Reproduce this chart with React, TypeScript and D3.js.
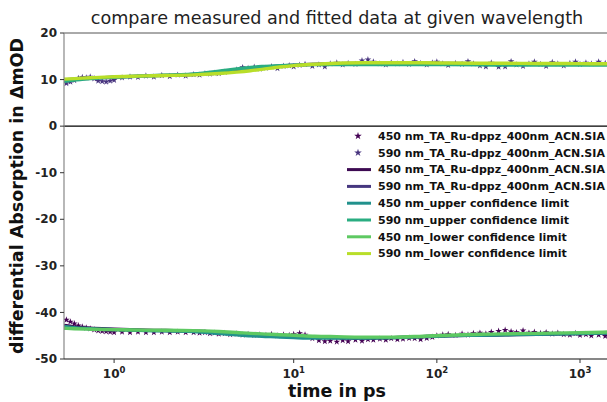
import React from "react";
import * as d3 from "d3";

// measured time points (ps)
const times = [0.4, 0.45, 0.5, 0.55, 0.6, 0.65, 0.7, 0.75, 0.8, 0.85,
  0.9, 0.95, 1.0, 1.1, 1.2, 1.3, 1.4, 1.5, 1.6, 1.7,
  1.8, 1.9, 2.0, 2.2, 2.4, 2.6, 2.8, 3.0, 3.3, 3.6,
  4.0, 4.4, 4.8, 5.3, 5.8, 6.4, 7.0, 7.7, 8.5, 9.3,
  10, 11, 12, 13.5, 15, 16.5, 18, 20, 22, 24,
  27, 30, 33, 36, 40, 44, 48, 53, 58, 64,
  70, 77, 85, 93, 100, 110, 120, 135, 150, 165,
  180, 200, 220, 240, 270, 300, 330, 360, 400, 440,
  480, 530, 580, 640, 700, 770, 850, 930, 1000, 1100,
  1200, 1350, 1500];

const data450 = [-41.6, -42.0, -42.4, -42.8, -43.1, -43.3, -43.5, -43.7, -43.9, -44.0,
  -44.1, -44.2, -44.3, -44.2, -44.3, -44.2, -44.3, -44.3, -44.2, -44.3,
  -44.2, -44.3, -44.3, -44.4, -44.3, -44.5, -44.4, -44.6, -44.5, -44.7,
  -44.6, -44.8, -44.7, -44.9, -44.8, -44.9, -44.7, -45.0, -44.8, -44.9,
  -44.7, -44.5, -44.8, -45.6, -46.0, -46.2, -46.1, -46.3, -46.0, -46.2,
  -45.9, -46.1, -45.8, -45.9, -45.7, -45.9, -45.6, -45.8, -45.7, -45.5,
  -45.6, -45.8, -45.5, -45.3, -45.0, -44.8, -44.7, -44.9, -44.6, -44.8,
  -44.5, -44.4, -44.6, -44.2, -44.0, -43.8, -44.1, -44.3, -43.9, -44.4,
  -44.2, -44.5, -44.3, -44.6, -44.4, -44.7, -44.8, -44.5, -44.9, -44.7,
  -45.0, -44.8, -45.1];

const data590 = [9.2, 9.5, 9.8, 10.3, 10.5, 10.4, 10.6, 10.2, 9.7, 9.6,
  9.5, 9.7, 9.9, 10.4, 10.6, 10.5, 10.8, 10.6, 10.9, 10.7,
  11.0, 10.8, 11.1, 11.0, 11.3, 11.2, 11.4, 11.3, 11.6, 11.8,
  12.1, 12.6, 12.4, 12.7, 12.3, 12.5, 12.8, 12.4, 12.9, 13.0,
  12.8, 13.1, 13.3, 12.9, 13.2, 12.8, 13.4, 13.6, 13.2, 13.5,
  13.3, 14.1, 14.3, 13.8, 13.4, 13.2, 13.6, 13.4, 13.7, 13.3,
  13.9, 13.5, 13.2, 13.6, 13.8, 13.4, 13.1, 13.5, 13.3, 13.9,
  13.4, 13.0, 12.8, 13.6, 12.7, 12.8, 13.9, 13.2, 12.9, 13.4,
  13.8, 13.3, 12.9, 13.7, 13.4, 13.0, 13.5, 13.8, 13.3, 13.6,
  13.4, 13.8, 13.5];

// fitted curves and confidence limits
const fitTimes = [0.37, 0.5, 0.7, 1, 1.4, 2, 3, 4, 5, 6, 8, 10, 14, 20, 30, 50, 80, 120, 200, 300, 500, 800, 1200, 1620];
const fit450 = [-42.8, -43.1, -43.4, -43.6, -43.8, -44.0, -44.3, -44.5, -44.7, -44.8, -45.0, -45.1, -45.3, -45.4, -45.5, -45.4, -45.2, -45.0, -44.9, -44.8, -44.7, -44.6, -44.5, -44.4];
const fit590 = [9.9, 10.1, 10.3, 10.5, 10.8, 11.1, 11.5, 11.9, 12.2, 12.5, 12.9, 13.1, 13.3, 13.4, 13.45, 13.5, 13.5, 13.45, 13.4, 13.4, 13.35, 13.35, 13.3, 13.3];
const upper450 = [-43.0, -43.3, -43.5, -43.7, -43.9, -44.1, -44.5, -44.8, -45.0, -45.1, -45.3, -45.4, -45.5, -45.5, -45.5, -45.4, -45.2, -45.0, -44.9, -44.8, -44.7, -44.6, -44.5, -44.4];
const upper590 = [9.6, 9.9, 10.2, 10.5, 10.8, 11.2, 11.8, 12.3, 12.6, 12.8, 13.0, 13.1, 13.2, 13.2, 13.25, 13.25, 13.2, 13.2, 13.15, 13.1, 13.1, 13.1, 13.1, 13.1];
const lower450 = [-43.4, -43.5, -43.6, -43.7, -43.8, -43.9, -44.1, -44.3, -44.5, -44.6, -44.8, -44.9, -45.1, -45.2, -45.3, -45.3, -45.1, -44.9, -44.7, -44.6, -44.5, -44.4, -44.3, -44.2];
const lower590 = [10.1, 10.2, 10.4, 10.6, 10.8, 11.0, 11.3, 11.6, 11.9, 12.2, 12.7, 13.0, 13.3, 13.5, 13.6, 13.6, 13.6, 13.55, 13.5, 13.5, 13.45, 13.45, 13.4, 13.4];

const yTicks = [20, 10, 0, -10, -20, -30, -40, -50];
const xTicks = [1, 10, 100, 1000];

const legendNames = [
  "450 nm_TA_Ru-dppz_400nm_ACN.SIA",
  "590 nm_TA_Ru-dppz_400nm_ACN.SIA",
  "450 nm_TA_Ru-dppz_400nm_ACN.SIA",
  "590 nm_TA_Ru-dppz_400nm_ACN.SIA",
  "450 nm_upper confidence limit",
  "590 nm_upper confidence limit",
  "450 nm_lower confidence limit",
  "590 nm_lower confidence limit",
];
const colors = ["#440154", "#47337e", "#3d0a52", "#46377f", "#21918c", "#2aad81", "#5ec962", "#b8de29"];

const W = 607, H = 402;
const left = 64, right = 610, top = 33, bottom = 359;
const font = "DejaVu Sans, sans-serif";

// matplotlib-like symlog transform
const linthresh = 2;
const linscale = 1 / (1 - 1 / 10);
function symT(t: number) {
  if (t <= linthresh) return t * linscale;
  return linthresh * (linscale + Math.log10(t / linthresh));
}

export default function App() {
  const xs = d3.scaleLinear().domain([symT(0.37), symT(1620)]).range([left, right]);
  const x = (t: number) => xs(symT(t));
  const y = d3.scaleLinear().domain([-50, 20]).range([bottom, top]);

  const line = (vals: number[]) =>
    d3.line<number>().x((_, i) => x(fitTimes[i])).y((v) => y(v)).curve(d3.curveMonotoneX)(vals) || "";

  const star = d3.symbol().type(d3.symbolStar).size(14)() || "";
  const starBig = d3.symbol().type(d3.symbolStar).size(18)() || "";

  const lines: [number[], string][] = [
    [fit450, colors[2]],
    [fit590, colors[3]],
    [upper450, colors[4]],
    [upper590, colors[5]],
    [lower450, colors[6]],
    [lower590, colors[7]],
  ];

  return (
    <svg width={W} height={H} style={{ position: "absolute", left: 0, top: 0, background: "#fff" }}>
      <defs>
        <clipPath id="plot">
          <rect x={left} y={top} width={right - left} height={bottom - top} />
        </clipPath>
      </defs>
      <text x={(left + right) / 2} y={24} textAnchor="middle" fontFamily={font} fontSize={17.6} fill="#222">
        compare measured and fitted data at given wavelength
      </text>

      <g clipPath="url(#plot)">
        <line x1={left} x2={right} y1={y(0)} y2={y(0)} stroke="#000" strokeWidth={1.3} />
        {times.map((t, i) => (
          <path key={"a" + i} d={star} transform={`translate(${x(t)},${y(data450[i])})`} fill={colors[0]} />
        ))}
        {times.map((t, i) => (
          <path key={"b" + i} d={star} transform={`translate(${x(t)},${y(data590[i])})`} fill={colors[1]} />
        ))}
        {lines.map(([v, c], i) => (
          <path key={"l" + i} d={line(v)} fill="none" stroke={c} strokeWidth={3.4} />
        ))}
      </g>

      {/* spines */}
      <line x1={left} x2={right} y1={top} y2={top} stroke="#555" strokeWidth={1} />
      <line x1={left} x2={left} y1={top} y2={bottom} stroke="#888" strokeWidth={1.2} />
      <line x1={left} x2={right} y1={bottom} y2={bottom} stroke="#111" strokeWidth={1.2} />

      {yTicks.map((v) => (
        <g key={"y" + v}>
          <line x1={left - 4} x2={left} y1={y(v)} y2={y(v)} stroke="#333" />
          <text x={left - 7} y={y(v)} dy="0.35em" textAnchor="end" fontFamily={font} fontWeight="bold" fontSize={12} fill="#222">
            {v}
          </text>
        </g>
      ))}
      {xTicks.map((t) => (
        <g key={"x" + t}>
          <line x1={x(t)} x2={x(t)} y1={bottom} y2={bottom + 4} stroke="#333" />
          <text x={x(t)} y={378} textAnchor="middle" fontFamily={font} fontWeight="bold" fontSize={12} fill="#222">
            10<tspan dy={-5} fontSize={8.5}>{Math.round(Math.log10(t))}</tspan>
          </text>
        </g>
      ))}

      <text x={337} y={397} textAnchor="middle" fontFamily={font} fontWeight="bold" fontSize={17.5} fill="#111">
        time in ps
      </text>
      <text transform={`translate(23,${(top + bottom) / 2}) rotate(-90)`} textAnchor="middle" fontFamily={font} fontWeight="bold" fontSize={17.5} fill="#111">
        differential Absorption in ΔmOD
      </text>

      {/* legend */}
      {legendNames.map((name, i) => {
        const ly = 136 + i * 16.8;
        return (
          <g key={"g" + i}>
            {i < 2 ? (
              <path d={starBig} transform={`translate(358,${ly})`} fill={colors[i]} />
            ) : (
              <line x1={347} x2={371} y1={ly} y2={ly} stroke={colors[i]} strokeWidth={3} />
            )}
            <text x={378} y={ly} dy="0.35em" fontFamily={font} fontWeight="bold" fontSize={11} fill="#111">
              {name}
            </text>
          </g>
        );
      })}
    </svg>
  );
}
